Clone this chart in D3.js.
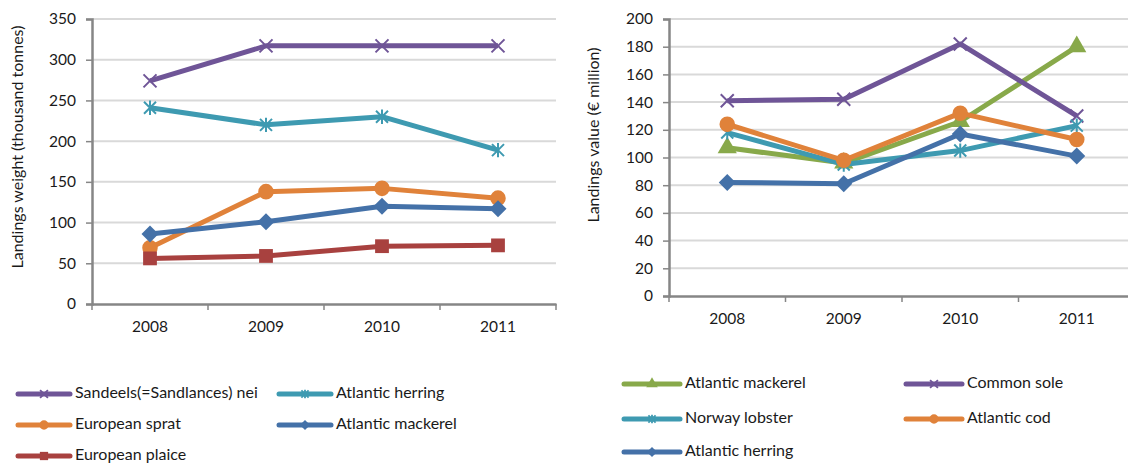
<!DOCTYPE html>
<html><head><meta charset="utf-8">
<script src="https://cdn.jsdelivr.net/npm/d3@7"></script>
<style>
html,body{margin:0;padding:0;background:#fff;}
text{font-family:Lato,"Open Sans",sans-serif;fill:#1a1a1a;}
</style></head>
<body><svg id="c" width="1128" height="464"></svg>
<script>
const years = ["2008","2009","2010","2011"];

// Left chart: landings weight (thousand tonnes)
const leftTicks = [0,50,100,150,200,250,300,350];
const leftNames = ["Sandeels(=Sandlances) nei","Atlantic herring","European sprat","Atlantic mackerel","European plaice"];
const sandeels = [274,317,317,317];
const herringW = [241,220,230,189];
const sprat = [69,138,142,130];
const mackerelW = [86,101,120,117];
const plaice = [56,59,71,72];
const leftValues = [sandeels, herringW, sprat, mackerelW, plaice];
const leftColors = ["#6f5597","#3e9ab1","#e0823a","#4471a8","#a8413f"];
const leftMarkers = ["x","asterisk","circle","diamond","square"];

// Right chart: landings value (€ million)
const rightTicks = [0,20,40,60,80,100,120,140,160,180,200];
const rightNames = ["Atlantic mackerel","Common sole","Norway lobster","Atlantic cod","Atlantic herring"];
const mackerelV = [107,96,126,180];
const sole = [141,142,182,130];
const lobster = [118,95,105,123];
const cod = [124,98,132,113];
const herringV = [82,81,117,101];
const rightValues = [mackerelV, sole, lobster, cod, herringV];
const rightColors = ["#88a94a","#6f5597","#3e9ab1","#e0823a","#4471a8"];
const rightMarkers = ["triangle","x","asterisk","circle","diamond"];

const svg = d3.select("#c");

function markerPath(type){
  const p = d3.path();
  if(type==="x"){ const s=6.5; p.moveTo(-s,-s);p.lineTo(s,s);p.moveTo(-s,s);p.lineTo(s,-s); return p.toString();}
  if(type==="asterisk"){ const s=6; p.moveTo(-s,-s);p.lineTo(s,s);p.moveTo(-s,s);p.lineTo(s,-s);p.moveTo(0,-s*1.2);p.lineTo(0,s*1.2); return p.toString();}
  if(type==="circle") return d3.symbol(d3.symbolCircle, 190)();
  if(type==="diamond"){ const s=8.5; p.moveTo(0,-s);p.lineTo(s,0);p.lineTo(0,s);p.lineTo(-s,0);p.closePath(); return p.toString();}
  if(type==="square") return d3.symbol(d3.symbolSquare, 190)();
  if(type==="triangle") return d3.symbol(d3.symbolTriangle, 160)();
}
function drawMarker(g, type, color, x, y){
  const stroked = (type==="x"||type==="asterisk");
  g.append("path").attr("d", markerPath(type))
    .attr("transform", `translate(${x},${y})`)
    .attr("fill", stroked ? "none" : color)
    .attr("stroke", color).attr("stroke-width", stroked ? 2 : 0);
}

function chart(opt){
  const g = svg.append("g");
  const x = d3.scaleBand().domain(years).range([opt.x0, opt.x1]);
  const y = d3.scaleLinear().domain([0, opt.max]).range([opt.yb, opt.yt]);
  // gridlines
  g.append("g").selectAll("line").data(opt.ticks.filter(t=>t>0)).join("line")
    .attr("x1", opt.x0).attr("x2", opt.x1).attr("y1", d=>y(d)).attr("y2", d=>y(d))
    .attr("stroke","#d9d9d9").attr("stroke-width",2);
  // y axis
  const ya = g.append("g").attr("transform",`translate(${opt.x0},0)`)
    .call(d3.axisLeft(y).tickValues(opt.ticks).tickSize(6).tickPadding(opt.pad));
  ya.select(".domain").attr("stroke","#868686").attr("stroke-width",2.5);
  ya.selectAll(".tick line").attr("stroke","#868686").attr("stroke-width",1.5);
  ya.selectAll("text").attr("font-size",15.5).attr("fill","#1a1a1a").style("font-family","Lato, sans-serif");
  // x axis
  const xa = g.append("g").attr("transform",`translate(0,${opt.yb})`)
    .call(d3.axisBottom(x).tickSize(0).tickPadding(17));
  xa.select(".domain").attr("stroke","#868686").attr("stroke-width",2.5);
  xa.selectAll("text").attr("font-size",15.5).attr("fill","#1a1a1a").style("font-family","Lato, sans-serif");
  // category boundary ticks
  g.append("g").selectAll("line").data(d3.range(years.length+1)).join("line")
    .attr("x1", i=>opt.x0 + i*x.step()).attr("x2", i=>opt.x0 + i*x.step())
    .attr("y1", opt.yb).attr("y2", opt.yb+6)
    .attr("stroke","#868686").attr("stroke-width",1.5);
  // y title
  g.append("text").attr("transform",`translate(${opt.tx},${opt.ty}) rotate(-90)`)
    .attr("text-anchor","middle").attr("dominant-baseline","middle")
    .attr("font-size",16).text(opt.title);
  // series
  const line = d3.line().x((d,i)=>x(years[i])+x.bandwidth()/2).y(d=>y(d));
  opt.values.forEach((vals, si)=>{
    const sg = g.append("g");
    sg.append("path").attr("d", line(vals)).attr("fill","none")
      .attr("stroke", opt.colors[si]).attr("stroke-width",5).attr("stroke-linejoin","round");
    vals.forEach((v,i)=> drawMarker(sg, opt.markers[si], opt.colors[si], x(years[i])+x.bandwidth()/2, y(v)));
  });
  // legend
  opt.names.forEach((n, i)=>{
    const col = i%2, row = Math.floor(i/2);
    const lx = opt.legX[col], ly = opt.legY[row];
    const lg = svg.append("g");
    lg.append("line").attr("x1",lx).attr("x2",lx+opt.legW).attr("y1",ly).attr("y2",ly)
      .attr("stroke",opt.colors[i]).attr("stroke-width",5).attr("stroke-linecap","round");
    const m = opt.markers[i];
    lg.append("path").attr("d", markerPath(m))
      .attr("transform",`translate(${lx+opt.legW/2},${ly}) scale(0.6)`)
      .attr("fill", (m==="x"||m==="asterisk")?"none":opt.colors[i])
      .attr("stroke",opt.colors[i]).attr("stroke-width",(m==="x"||m==="asterisk")?3:0);
    lg.append("text").attr("x", lx+opt.legW+5).attr("y", ly).attr("dominant-baseline","middle")
      .attr("font-size",16).text(n);
  });
}

chart({x0:92, x1:556, yb:304, yt:19, max:350, ticks:leftTicks, pad:10,
  tx:19, ty:147, title:"Landings weight (thousand tonnes)",
  values:leftValues, colors:leftColors, markers:leftMarkers, names:leftNames,
  legX:[18,279], legY:[394,425, 456], legW:52});

chart({x0:669, x1:1135, yb:296, yt:19, max:200, ticks:rightTicks, pad:10,
  tx:595, ty:135, title:"Landings value (€ million)",
  values:rightValues, colors:rightColors, markers:rightMarkers, names:rightNames,
  legX:[624,906], legY:[384,419,452], legW:56});
</script></body></html>
